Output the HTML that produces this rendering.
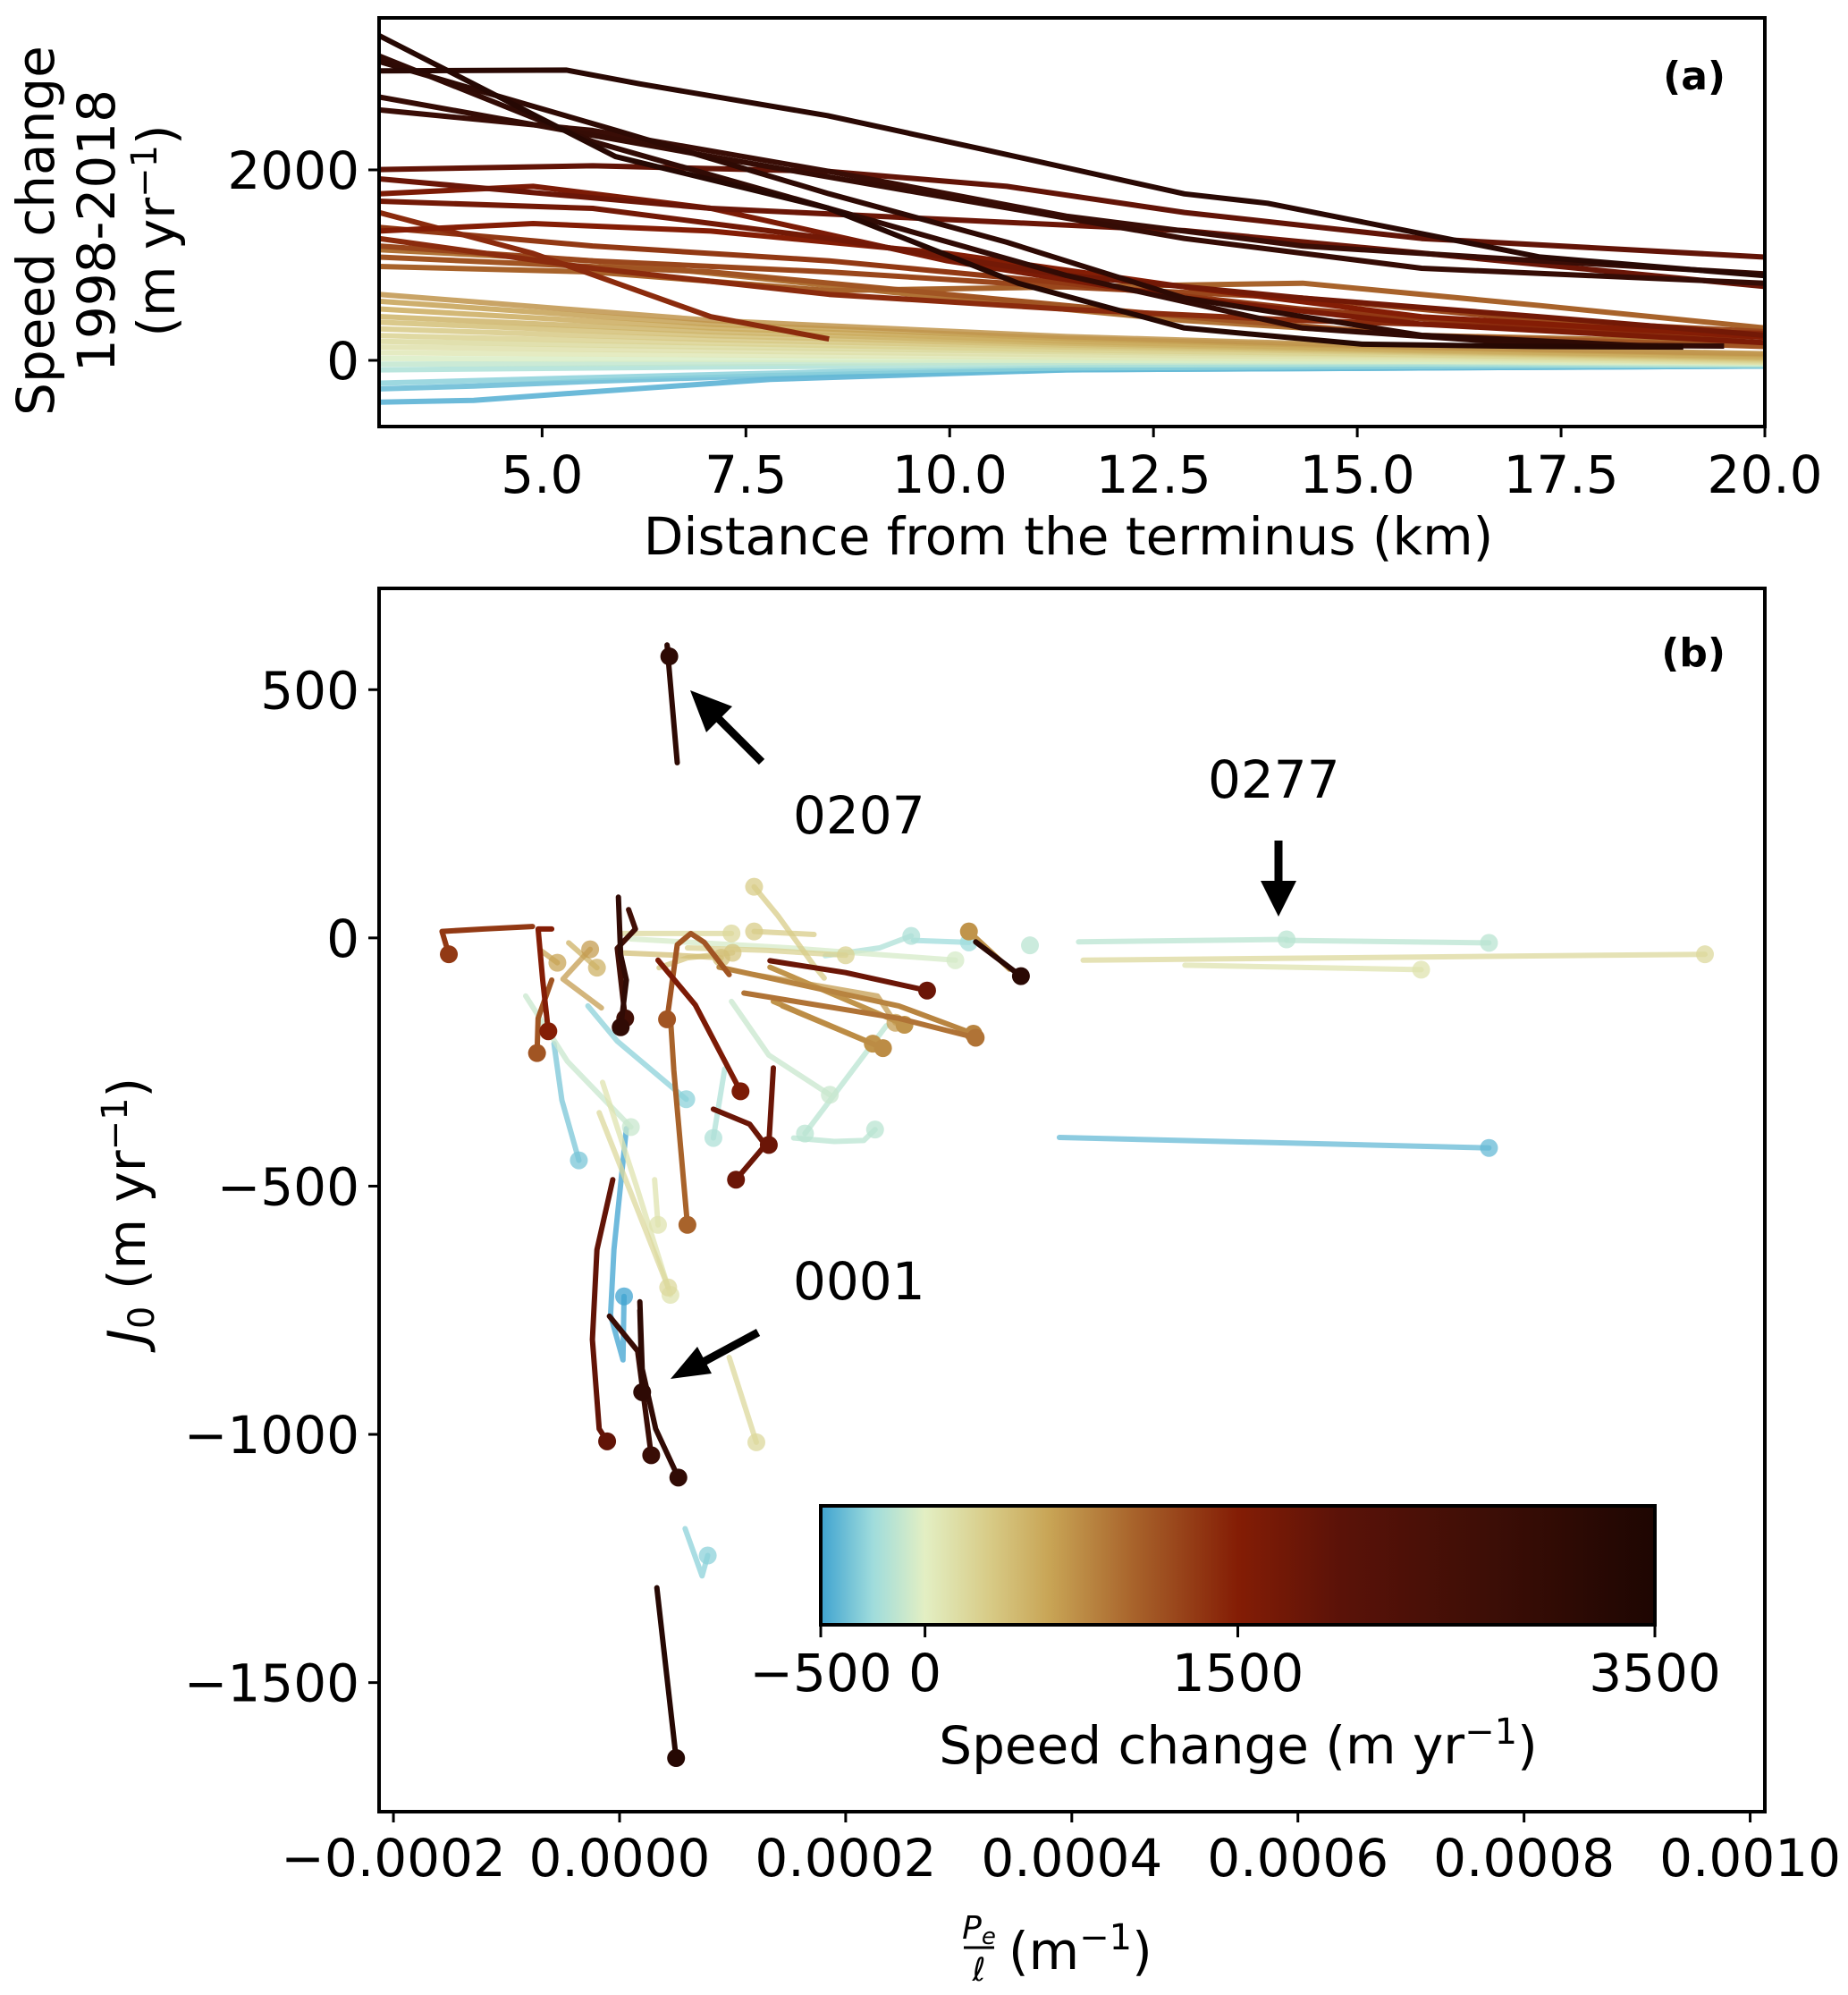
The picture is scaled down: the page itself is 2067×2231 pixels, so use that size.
<!DOCTYPE html>
<html><head><meta charset="utf-8">
<style>
html,body{margin:0;padding:0;background:#fff;}
svg{display:block;font-family:"DejaVu Sans","Liberation Sans",sans-serif;}
</style></head>
<body>
<svg id="fig" width="2067" height="2231" viewBox="0 0 2067 2231" xmlns="http://www.w3.org/2000/svg">
<defs>
<linearGradient id="cmap" x1="0" x2="1" y1="0" y2="0">
<stop offset="0" stop-color="#3fa3d0"/>
<stop offset="0.0625" stop-color="#9fdcdc"/>
<stop offset="0.125" stop-color="#e3efc3"/>
<stop offset="0.2" stop-color="#d8cc88"/>
<stop offset="0.275" stop-color="#c8a455"/>
<stop offset="0.375" stop-color="#a8632b"/>
<stop offset="0.5" stop-color="#841d05"/>
<stop offset="0.625" stop-color="#5a1208"/>
<stop offset="0.8" stop-color="#3d0e06"/>
<stop offset="1" stop-color="#1e0602"/>
</linearGradient>
</defs>
<g id="panelA"></g>
<g id="panelB"></g>
</svg>
<script>
// ---------- Panel (a) data ----------
const curveKm = [
 [3,5.9,8.5,10.84,12.88,15.06,17.24,19.0],
 [3,5.3,6.2,8.5,10.4,12.88,13.9,17.24,20],
 [3,5.62,8.52,11.43,14.33,17.24,19.5],
 [3,7.07,9.97,12.88,15.79,20],
 [3,5.62,8.52,11.43,14.33,17.24,20],
 [3,5.91,8.52,10.7,12.88,15.79,18.69],
 [3,5.62,8.52,10.7,12.88,15.79,20],
 [3,7.07,9.97,12.88,15.79,20],
 [3,5.62,8.52,11.43,14.33,17.24,20],
 [3,4.89,7.07,9.97,12.88,15.79,20],
 [3,4.89,7.07,9.97,12.88,15.79,20],
 [3,4.89,7.07,8.52],
 [3,5.62,8.52,11.43,14.33,17.24,20],
 [3,5.62,8.52,11.43,14.33,17.24,20],
 [3,5.62,8.52,11.43,14.33,17.24,20],
 [3,7.07,9.97,12.88,15.79,20],
 [3,5.62,8.52,11.43,14.33,17.24,20],
 [3,5.62,9.97,12.88,15.79,20],
 [3,7.07,11.43,15.79,20],
 [3,7.07,11.43,15.79,20],
 [3,7.07,11.43,15.79,20],
 [3,7.07,11.43,15.79,20],
 [3,7.07,11.43,15.79,20],
 [3,7.07,11.43,15.79,20],
 [3,7.07,11.43,15.79,20],
 [3,7.07,11.43,15.79,20],
 [3,7.07,11.43,15.79,20],
 [3,7.07,11.43,15.79,20],
 [3,7.07,11.43,15.79,20],
 [3,7.07,11.43,15.79,20],
 [3,7.07,11.43,15.79,20],
 [3,4.16,5.62,7.8,11.43,20],
 [3,4.16,5.62,7.8,11.43,20],
 [3,5.62,8.52,11.43,20]
];
const curveVal = [
 [3410,2140,1600,810,340,170,145,140],
 [3040,3048,2903,2570,2218,1748,1650,1085,889],
 [3197,2297,1596,892,340,165,150],
 [2766,2141,1710,1280,967,810],
 [2630,2414,1984,1514,1201,1045,908],
 [3138,2414,1749,1240,654,263,145],
 [2004,2043,1984,1827,1553,1280,1084],
 [1906,1596,1479,1362,1127,775],
 [1671,1596,1280,892,654,458,263],
 [1749,1827,1596,1045,654,380,185],
 [1358,1436,1358,1123,772,458,243],
 [1553,1123,458,224],
 [1280,967,693,537,419,341,282],
 [1397,1201,1045,810,537,341,243],
 [1201,1045,928,771,654,419,301],
 [1084,928,693,458,262,145],
 [986,928,732,771,810,575,340],
 [1162,1045,654,419,262,184],
 [693,420,250,140,70],
 [620,380,230,130,60],
 [540,340,200,110,40],
 [460,300,180,100,30],
 [400,260,160,90,20],
 [330,220,140,80,10],
 [260,180,110,60,0],
 [200,140,90,50,-10],
 [140,100,60,30,-20],
 [80,60,30,10,-20],
 [20,10,0,-10,-30],
 [-40,-30,-20,-20,-40],
 [-100,-70,-50,-40,-50],
 [-300,-270,-220,-160,-100,-60],
 [-440,-420,-330,-200,-100,-60],
 [-240,-180,-120,-80,-50]
];
const curveC = [3300,3200,3000,2900,2800,3100,1900,1800,1700,1600,1500,1400,1400,1300,1200,1100,1000,900,
 700,620,550,480,400,320,250,180,120,60,-30,-120,-200,-400,-450,-300];
const xTicksA = [5.0,7.5,10.0,12.5,15.0,17.5,20.0];
const yTicksA = [0,2000];

// ---------- Panel (b) data (x in units of 1e-4 m^-1) ----------
const trajX = [
 [-0.77,-1.2,-1.57,-1.51],
 [-0.6,-0.72,-0.68,-0.63],
 [-0.6,-0.72,-0.73],
 [-0.01,0.01,0.06,0.01],
 [0.08,0.14,-0.02,0.05],
 [1.81,1.72,1.40,1.19],
 [1.33,2.0,2.72],
 [3.15,3.55],
 [3.45,3.09],
 [0.88,2.47,3.13],
 [1.1,2.47,3.15],
 [1.44,2.33],
 [1.33,2.52],
 [0.97,0.75,0.63,0.51,0.42],
 [0.45,0.48,0.6],
 [-0.28,-0.02,0.59],
 [-0.58,-0.51,-0.36],
 [-0.15,0.15,0.45],
 [-0.83,-0.46,0.1],
 [0.06,-0.05,-0.08,0.03,0.04],
 [-0.06,-0.2,-0.24,-0.18,-0.11],
 [0.18,0.2,0.32,0.52],
 [0.18,0.2],
 [-0.09,0.16,0.28],
 [0.31,0.34],
 [-0.18,0.43],
 [0.97,1.21],
 [0.93,0.83],
 [0.83,1.15,1.29,1.03],
 [1.36,1.32],
 [0.34,0.67,1.07],
 [0.99,1.32,1.86],
 [2.36,2.12,1.64],
 [1.54,1.9,2.16,2.26],
 [1.82,2.3,2.58],
 [2.6,3.09],
 [0.1,1.5,2.97],
 [1.72,1.19],
 [0.03,0.99],
 [-0.16,-0.5,-0.26],
 [1.19,2.28,2.44],
 [1.36,2.24],
 [4.06,5.9],
 [5.9,7.69],
 [4.1,9.6],
 [5.0,7.09],
 [3.89,7.69],
 [0.51,0.42,0.44],
 [0.33,0.5],
 [0.58,0.73,0.78],
 [-0.45,-0.35,-0.2],
 [-0.7,-0.55],
 [0.0,0.5,0.9],
 [3.63],
 [0.35,0.6,1.0],
 [0.6,1.3,2.0]
];
const trajY = [
 [23,18,13,-33],
 [18,18,-85,-188],
 [-85,-162,-232],
 [82,-34,-85,-180],
 [57,18,-21,-162],
 [-81,-56,45,103],
 [-46,-70,-106],
 [-8,-77],
 [-63,13],
 [-59,-137,-193],
 [-111,-162,-201],
 [-137,-222],
 [-59,-175],
 [-74,-9,9,-14,-164],
 [-160,-267,-578],
 [-137,-208,-325],
 [-213,-327,-448],
 [-291,-500,-719],
 [-117,-249,-381],
 [-384,-628,-760,-850,-722],
 [-487,-628,-809,-989,-1014],
 [-733,-868,-989,-1087],
 [-750,-915],
 [-762,-832,-1042],
 [-487,-578],
 [-352,-704],
 [-845,-1016],
 [-264,-403],
 [-345,-375,-417,-487],
 [-262,-417],
 [-45,-135,-309],
 [-128,-236,-316],
 [-177,-249,-394],
 [-403,-410,-408,-386],
 [-36,-20,4],
 [-5,-9],
 [-2,-20,-45],
 [7,13],
 [9,9],
 [-141,-83,-23],
 [-74,-117,-171],
 [-128,-213],
 [-8,-3],
 [-5,-10],
 [-45,-33],
 [-55,-64],
 [-402,-423],
 [353,590,567],
 [-1309,-1652],
 [-1190,-1285,-1244],
 [-10,-30,-60],
 [-25,-50],
 [-30,-35,-40],
 [-15],
 [-60,-40,-30],
 [-20,-25,-35]
];
const trajC = [1300,1500,1100,3000,2600,300,1800,3200,700,800,900,750,700,1100,1000,-300,-350,100,-100,-500,1900,3000,3100,2800,100,200,200,-200,1800,1800,1600,-100,-150,-150,-200,-250,-50,300,200,650,650,700,-150,-150,200,100,-400,3100,3300,-300,500,600,400,-150,350,250];
const xTicksB = [-0.0002,0.0000,0.0002,0.0004,0.0006,0.0008,0.0010];
const yTicksB = [500,0,-500,-1000,-1500];
const cbTicks = [-500,0,1500,3500];

// ---------- helpers ----------
const NS = "http://www.w3.org/2000/svg";
const stops = [[-500,[63,163,208]],[-250,[159,220,220]],[0,[227,239,195]],[300,[216,204,136]],[600,[200,164,85]],[1000,[168,99,43]],[1500,[132,29,5]],[2000,[90,18,8]],[2700,[61,14,6]],[3500,[30,6,2]]];
function cmap(v){
  if(v<=stops[0][0]) return "rgb("+stops[0][1]+")";
  for(let i=1;i<stops.length;i++){
    if(v<=stops[i][0]){
      const t=(v-stops[i-1][0])/(stops[i][0]-stops[i-1][0]);
      const a=stops[i-1][1],b=stops[i][1];
      return "rgb("+a.map((x,k)=>Math.round(x+(b[k]-x)*t)).join(",")+")";
    }
  }
  return "rgb("+stops[stops.length-1][1]+")";
}
function mk(tag,attrs,parent){const e=document.createElementNS(NS,tag);for(const k in attrs)e.setAttribute(k,attrs[k]);parent.appendChild(e);return e;}

// ---------- Panel (a) ----------
const A={l:424,r:1974,t:20,b:477,x0:3,x1:20,y0:-695,y1:3596};
const ax=v=>A.l+(v-A.x0)/(A.x1-A.x0)*(A.r-A.l);
const ay=v=>A.b-(v-A.y0)/(A.y1-A.y0)*(A.b-A.t);
const gA=document.getElementById('panelA');
const clipA=mk('clipPath',{id:'clipA'},gA);
mk('rect',{x:A.l,y:A.t,width:A.r-A.l,height:A.b-A.t},clipA);
const linesA=mk('g',{'clip-path':'url(#clipA)'},gA);


const drawOrder=curveC.map((c,i)=>i).sort((a,b)=>curveC[a]-curveC[b]);
drawOrder.forEach(i=>{
  const d=curveKm[i].map((k,j)=>(j?'L':'M')+ax(k).toFixed(1)+' '+ay(curveVal[i][j]).toFixed(1)).join(' ');
  const p=mk('path',{d:d,fill:'none',stroke:cmap(curveC[i]),'stroke-width':6,'stroke-linejoin':'round',opacity:curveC[i]<800?0.85:1},linesA);
  
  
});
const frameA=mk('rect',{x:A.l,y:A.t,width:A.r-A.l,height:A.b-A.t,fill:'none',stroke:'#000','stroke-width':4},gA);


xTicksA.forEach(v=>{
  const x=ax(v);
  mk('line',{x1:x,x2:x,y1:A.b,y2:A.b+12,stroke:'#000','stroke-width':3},gA);
  const t=mk('text',{x:x,y:A.b+74,'text-anchor':'middle','font-size':58},gA);
  t.textContent=v.toFixed(1);
  
  
});
yTicksA.forEach(v=>{
  const y=ay(v);
  mk('line',{x1:A.l-12,x2:A.l,y1:y,y2:y,stroke:'#000','stroke-width':3},gA);
  const t=mk('text',{x:A.l-22,y:y+21,'text-anchor':'end','font-size':58},gA);
  t.textContent=String(v);
  
  
});

// ---------- Panel (b) ----------
const B={l:424,r:1974,t:658,b:2026,x0:-2.127,x1:10.13,y0:-1760,y1:704};
const bx=v=>B.l+(v-B.x0)/(B.x1-B.x0)*(B.r-B.l);
const by=v=>B.b-(v-B.y0)/(B.y1-B.y0)*(B.b-B.t);
const gB=document.getElementById('panelB');
const linesB=mk('g',{},gB);


const ordB=trajC.map((c,i)=>i).sort((a,b)=>trajC[a]-trajC[b]);
ordB.forEach(i=>{
  const xs=trajX[i],ys=trajY[i],col=cmap(trajC[i]);
  const op=(trajC[i]<700)?0.75:1;
  if(xs.length>1){
    const d=xs.map((v,j)=>(j?'L':'M')+bx(v).toFixed(1)+' '+by(ys[j]).toFixed(1)).join(' ');
    const p=mk('path',{d:d,fill:'none',stroke:col,'stroke-width':6,'stroke-linejoin':'round','stroke-linecap':'round',opacity:op},linesB);
    
    
  }
  const n=xs.length-1;
  const c=mk('circle',{cx:bx(xs[n]),cy:by(ys[n]),r:10,fill:col,opacity:op},linesB);
  
  
});
const frameB=mk('rect',{x:B.l,y:B.t,width:B.r-B.l,height:B.b-B.t,fill:'none',stroke:'#000','stroke-width':4},gB);


xTicksB.forEach(v=>{
  const x=bx(v*1e4);
  mk('line',{x1:x,x2:x,y1:B.b,y2:B.b+12,stroke:'#000','stroke-width':3},gB);
  const t=mk('text',{x:x,y:B.b+72,'text-anchor':'middle','font-size':58},gB);
  t.textContent=(v<0?'\u2212':'')+Math.abs(v).toFixed(4);
  
  
});
yTicksB.forEach(v=>{
  const y=by(v);
  mk('line',{x1:B.l-12,x2:B.l,y1:y,y2:y,stroke:'#000','stroke-width':3},gB);
  const t=mk('text',{x:B.l-22,y:y+21,'text-anchor':'end','font-size':58},gB);
  t.textContent=(v<0?'\u2212':'')+Math.abs(v);
  
  
});

// colorbar
const CB={l:918,r:1851,t:1684,b:1817,v0:-500,v1:3500};
const cbx=v=>CB.l+(v-CB.v0)/(CB.v1-CB.v0)*(CB.r-CB.l);
const cb=mk('rect',{x:CB.l,y:CB.t,width:CB.r-CB.l,height:CB.b-CB.t,fill:'url(#cmap)',stroke:'#000','stroke-width':4},gB);


cbTicks.forEach(v=>{
  const x=cbx(v);
  mk('line',{x1:x,x2:x,y1:CB.b,y2:CB.b+14,stroke:'#000','stroke-width':3},gB);
  const t=mk('text',{x:x,y:CB.b+74,'text-anchor':'middle','font-size':58},gB);
  t.textContent=(v<0?'\u2212':'')+Math.abs(v);
  
  
});
</script>
<svg style="position:absolute;left:0;top:0" width="2067" height="2231" viewBox="0 0 2067 2231">
<text x="1930" y="100" font-size="44" font-weight="bold" text-anchor="end" font-family="DejaVu Sans, sans-serif">(a)</text>
<text x="1930" y="745" font-size="44" font-weight="bold" text-anchor="end" font-family="DejaVu Sans, sans-serif">(b)</text>
<g font-family="DejaVu Sans, sans-serif" font-size="58" text-anchor="middle">
<text transform="translate(60,258) rotate(-90)">Speed change</text>
<text transform="translate(128,258) rotate(-90)">1998-2018</text>
<text transform="translate(195,258) rotate(-90)">(m yr<tspan font-size="40" dy="-20">−1</tspan><tspan dy="20">)</tspan></text>
</g>
<text x="1195" y="620" font-size="58" text-anchor="middle" font-family="DejaVu Sans, sans-serif">Distance from the terminus (km)</text>
<text transform="translate(162,1354) rotate(-90)" font-size="58" text-anchor="middle" font-family="DejaVu Sans, sans-serif"><tspan font-style="italic">J</tspan><tspan font-size="40" dy="10">0</tspan><tspan dy="-10"> (m yr</tspan><tspan font-size="40" dy="-20">−1</tspan><tspan dy="20">)</tspan></text>
<g font-family="DejaVu Sans, sans-serif">
<text x="1095" y="2168" font-size="36" font-style="italic" text-anchor="middle">P<tspan font-size="26" dy="6">e</tspan></text>
<line x1="1078" x2="1112" y1="2178" y2="2178" stroke="#000" stroke-width="3"/>
<text x="1095" y="2215" font-size="36" font-style="italic" text-anchor="middle">ℓ</text>
<text x="1128" y="2202" font-size="58">(m<tspan font-size="40" dy="-22">−1</tspan><tspan dy="22">)</tspan></text>
</g>
<text x="1385" y="1972" font-size="58" text-anchor="middle" font-family="DejaVu Sans, sans-serif">Speed change (m yr<tspan font-size="40" dy="-22">−1</tspan><tspan dy="22">)</tspan></text>
<text x="887" y="932" font-size="58" font-family="DejaVu Sans, sans-serif">0207</text>
<text x="1351" y="892" font-size="58" font-family="DejaVu Sans, sans-serif">0277</text>
<text x="887" y="1453" font-size="58" font-family="DejaVu Sans, sans-serif">0001</text>
<g>
<line x1="852" y1="852" x2="800" y2="800" stroke="#000" stroke-width="9"/>
<polygon points="772,772 819,790 790,819" fill="#000"/>
</g>
<g>
<line x1="1430" y1="940" x2="1430" y2="990" stroke="#000" stroke-width="9"/>
<polygon points="1430,1025 1410,985 1450,985" fill="#000"/>
</g>
<g>
<line x1="848" y1="1490" x2="785" y2="1524" stroke="#000" stroke-width="9"/>
<polygon points="750,1542 780,1506 796,1536" fill="#000"/>
</g>
</svg>
</body></html>
